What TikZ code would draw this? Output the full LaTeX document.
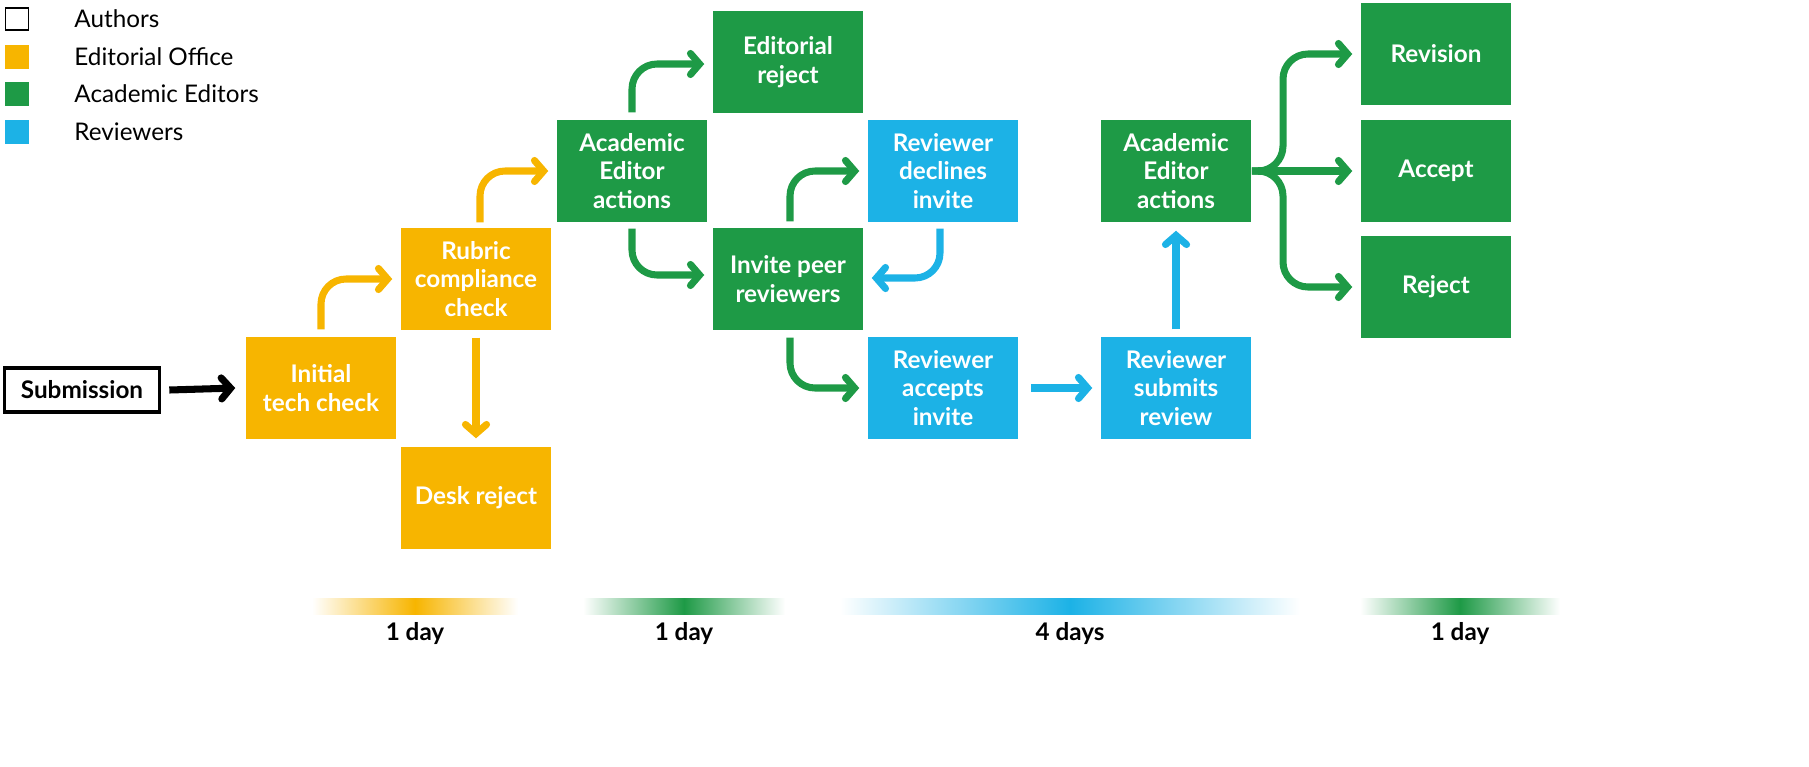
\documentclass[tikz,border=0pt]{standalone}
\usepackage{fontspec}
\setmainfont{Lato}
\usetikzlibrary{arrows.meta}
\definecolor{office}{HTML}{F7B500}
\definecolor{editor}{HTML}{1E9A46}
\definecolor{reviewer}{HTML}{1CB2E6}
\tikzset{
  box/.style={draw=none,fill=#1,text=white,minimum width=1.5cm,minimum height=1.02cm,
    align=center,font=\fontsize{6.9}{8.2}\selectfont\bfseries,inner sep=0pt},
  flow/.style={draw=#1,line width=2pt,rounded corners=2.5mm,
    -{Straight Barb[length=2.6pt,width=6pt,line cap=round]}},
  legend/.style={minimum width=0.23cm,minimum height=0.22cm,inner sep=0pt,draw=#1,fill=#1}
}
\begin{document}
\begin{tikzpicture}[x=0.01cm,y=-0.01cm]
\useasboundingbox (0,0) rectangle (1809,766);

% Legend
\node[legend=black,fill=white] (lga) at (17,19) {};
\node[legend=office] (lgb) at (17,57) {};
\node[legend=editor] (lgc) at (17,94) {};
\node[legend=reviewer] (lgd) at (17,132) {};
\foreach \n/\t in {lga/Authors,lgb/Editorial Office,lgc/Academic Editors,lgd/Reviewers}
  \node[anchor=west,font=\fontsize{6.9}{8.2}\selectfont] at ([xshift=0.45cm]\n.center) {\t};

% Boxes
\node[draw=black,line width=1pt,fill=white,minimum width=1.55cm,minimum height=0.44cm,
  font=\fontsize{6.9}{8.2}\selectfont\bfseries,inner sep=0pt] (sub) at (82,390) {Submission};
\node[box=office] (tech) at (321,388) {Initial\\tech check};
\node[box=office] (rubric) at (476,279) {Rubric\\compliance\\check};
\node[box=office] (desk) at (476,498) {Desk reject};
\node[box=editor] (ae1) at (632,171) {Academic\\Editor\\actions};
\node[box=editor] (edrej) at (788,62) {Editorial\\reject};
\node[box=reviewer] (decl) at (943,171) {Reviewer\\declines\\invite};
\node[box=editor] (invite) at (788,279) {Invite peer\\reviewers};
\node[box=reviewer] (acc) at (943,388) {Reviewer\\accepts\\invite};
\node[box=reviewer] (subm) at (1176,388) {Reviewer\\submits\\review};
\node[box=editor] (ae2) at (1176,171) {Academic\\Editor\\actions};
\node[box=editor] (rev) at (1436,54) {Revision};
\node[box=editor] (accept) at (1436,171) {Accept};
\node[box=editor] (reject) at (1436,287) {Reject};

% Connectors
\draw[flow=black] ([xshift=0.08cm]sub.east) -- ([xshift=-0.1cm]tech.west);
\draw[flow=office] ([yshift=0.07cm]tech.north) |- ([xshift=-0.08cm]rubric.west);
\draw[flow=office] ([xshift=0.04cm,yshift=0.05cm]rubric.north) |- ([xshift=-0.08cm]ae1.west);
\draw[flow=office] ([yshift=-0.07cm]rubric.south) -- ([yshift=0.08cm]desk.north);
\draw[flow=editor] ([yshift=0.07cm]ae1.north) |- ([xshift=-0.08cm,yshift=-0.02cm]edrej.west);
\draw[flow=editor] ([yshift=-0.06cm]ae1.south) |- ([xshift=-0.08cm,yshift=0.04cm]invite.west);
\draw[flow=editor] ([xshift=0.02cm,yshift=0.06cm]invite.north) |- ([xshift=-0.08cm]decl.west);
\draw[flow=reviewer] ([xshift=-0.03cm,yshift=-0.06cm]decl.south) |- ([xshift=0.08cm,yshift=0.01cm]invite.east);
\draw[flow=editor] ([xshift=0.02cm,yshift=-0.07cm]invite.south) |- ([xshift=-0.08cm]acc.west);
\draw[flow=reviewer] ([xshift=0.12cm]acc.east) -- ([xshift=-0.08cm]subm.west);
\draw[flow=reviewer] ([yshift=0.07cm]subm.north) -- ([yshift=-0.08cm]ae2.south);
\coordinate (split) at (1283,171);
\draw[flow=editor] ([xshift=0.06cm]ae2.east) -- ([xshift=-0.08cm]accept.west);
\draw[flow=editor] (ae2.east) -- (split) |- ([xshift=-0.08cm]rev.west);
\draw[flow=editor] (ae2.east) -- (split) |- ([xshift=-0.08cm]reject.west);

% Time bars
\foreach \a/\b/\c/\t/\nm in {312/518/office/1 day/ta,583/785/editor/1 day/tb,
    840/1300/reviewer/4 days/tc,1360/1560/editor/1 day/td}{
  \shade[left color=white,right color=white,middle color=\c] (\a,598) rectangle (\b,614);
  \node[font=\fontsize{6.9}{8.2}\selectfont\bfseries] (\nm) at ({(\a+\b)/2},634) {\t};
}
\end{tikzpicture}
\end{document}
